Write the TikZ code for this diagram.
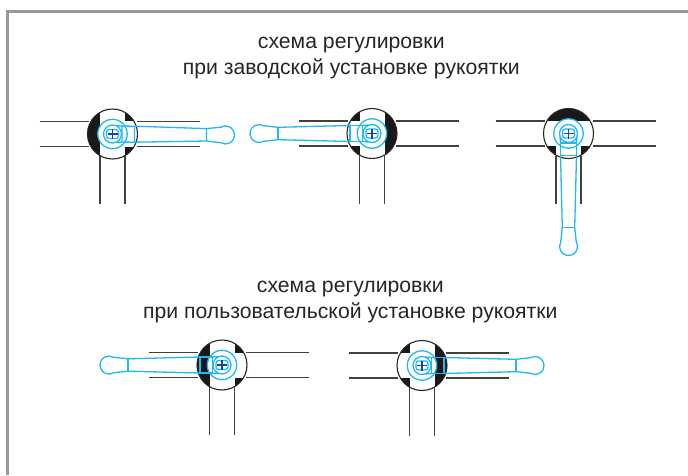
\documentclass[tikz,border=0pt]{standalone}
\usepackage{fontspec}
\setmainfont{Liberation Sans}
\definecolor{handleblue}{RGB}{30,185,240}
\definecolor{screwblue}{RGB}{25,70,150}
\tikzset{
  wire/.style={line width=1.1pt,color=black!75},
  cyanline/.style={line width=1.3pt,color=handleblue},
  title/.style={font=\fontsize{21.2}{26}\selectfont,align=center,text=black!85},
}
% #1 centre, #2 rotation of the black parts, #3 rotation of the handle
\newcommand{\joint}[3]{
  \begin{scope}[shift={(#1)}]
    \draw[wire] (-73,12.5) -- (-24,12.5);
    \draw[wire] (-73,-12.5) -- (-24,-12.5);
    \draw[wire] (24,12.5) -- (87,12.5);
    \draw[wire] (24,-12.5) -- (87,-12.5);
    \draw[wire] (-12.5,-22) -- (-12.5,-70);
    \draw[wire] (12.5,-22) -- (12.5,-70);
    % parties noires
    \begin{scope}
      \clip (0,0) circle (25);
      \fill[black!90,rotate=#2] (-30,-30) rectangle (-12.5,30);
      \fill[black!90,rotate=#2] (12.5,12.5) rectangle (30,30);
      \fill[black!90,rotate=#2] (12.5,-12.5) rectangle (30,-30);
    \end{scope}
    \draw[line width=1.1pt,color=black!85] (0,0) circle (25);
    % poignee
    \begin{scope}[rotate=#3]
      \draw[cyanline,fill=white] (0,0) circle (14.7);
      \draw[cyanline] (0,0) circle (9);
      \draw[cyanline] (9.5,-8) rectangle (22,8);
      \draw[cyanline] (3.3,8.5) -- (9.5,8);
      \draw[cyanline] (3.3,-8.5) -- (9.5,-8);
      \draw[cyanline] (22,8) -- (94,6.2) -- (108.5,7.8)
        arc[start angle=120,end angle=-120,radius=9]
        -- (94,-6.2) -- (22,-8);
      \draw[cyanline] (94,6.2) -- (94,-6.2);
    \end{scope}
    \draw[cyanline,rounded corners=2.5pt] (-6,-4.5) rectangle (6,4.5);
    \draw[line width=1.1pt,color=screwblue] (-5,0) -- (5,0);
    \draw[line width=1.1pt,color=screwblue] (0,-5) -- (0,5);
  \end{scope}
}
\begin{document}
\begin{tikzpicture}[x=1pt,y=1pt]
  \useasboundingbox (0,0) rectangle (688,475);
  % cadre
  \draw[line width=3pt,color=black!40] (7.6,0) -- (7.6,463.4) -- (688,463.4);

  \node[title] (titleTop) at (351.3,417) {схема регулировки\\при заводской установке рукоятки};
  \node[title] (titleBottom) at (350.3,173) {схема регулировки\\при пользовательской установке рукоятки};

  % schema usine
  \joint{112.5,341}{0}{-0.5}
  \joint{372,341.5}{180}{180}
  \joint{568.5,341.5}{-90}{-90}

  % schema utilisateur
  \joint{222,110}{0}{180}
  \joint{422,109.5}{180}{0}
\end{tikzpicture}
\end{document}
